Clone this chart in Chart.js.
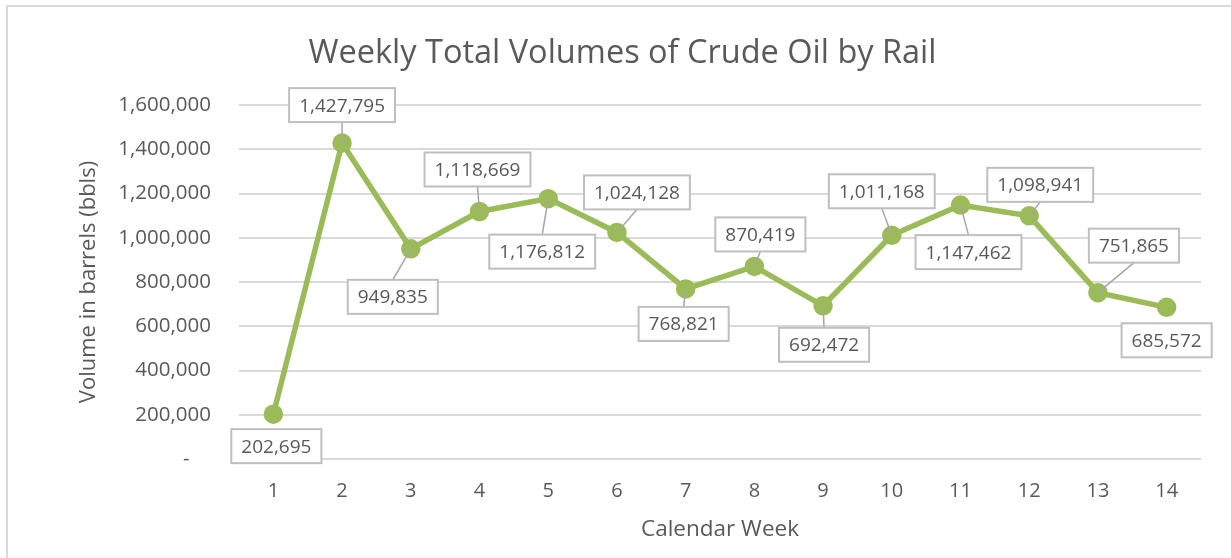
<!DOCTYPE html>
<html>
<head>
<meta charset="utf-8">
<script src="https://cdn.jsdelivr.net/npm/chart.js@4/dist/chart.umd.min.js"></script>
<style>
    body { margin: 0; background: #fff; }
    #frame { position: absolute; left: 6px; top: 5px; width: 1240px; height: 570px; border: 2px solid #d9d9d9; box-sizing: border-box; }
    #chart { position: absolute; left: 0; top: 0; }
</style>
</head>
<body>
<div id="frame"></div>
<canvas id="chart" width="1231" height="558"></canvas>
<script>
// Données du graphique
const weeks = ['1', '2', '3', '4', '5', '6', '7', '8', '9', '10', '11', '12', '13', '14'];
const volumes = [202695, 1427795, 949835, 1118669, 1176812, 1024128, 768821, 870419, 692472, 1011168, 1147462, 1098941, 751865, 685572];
const yTicks = [0, 200000, 400000, 600000, 800000, 1000000, 1200000, 1400000, 1600000];

// Décalage des étiquettes par rapport au point (px)
const labelOffsets = [
    [3, 32], [0, -38], [-18, 48], [-2, -42], [-6, 53], [20, -40], [-2, 35],
    [6, -32], [1, 39], [-10, -44], [8, 47], [11, -31], [36, -47], [0, 33]
];

const textColor = '#595959';
const fontFamily = '"Open Sans", "Liberation Sans", sans-serif';

// Centrer le titre sur tout le cadre (et pas seulement sur la zone moins le padding)
const titleCenter = {
    id: 'titleCenter',
    afterLayout(chart) {
        if (chart.titleBlock) {
            chart.titleBlock.left = 14;
            chart.titleBlock.right = chart.width;
        }
    }
};

// Étiquettes encadrées avec lignes de rappel (comme Excel)
const boxLabels = {
    id: 'boxLabels',
    afterDatasetsDraw(chart) {
        const ctx = chart.ctx;
        const meta = chart.getDatasetMeta(0);
        ctx.save();
        ctx.font = '19px ' + fontFamily;
        ctx.textAlign = 'center';
        ctx.textBaseline = 'middle';
        meta.data.forEach((pt, i) => {
            const text = volumes[i].toLocaleString('en-US');
            const w = ctx.measureText(text).width + 20;
            const h = 34;
            const cx = pt.x + labelOffsets[i][0];
            const cy = pt.y + labelOffsets[i][1];
            // ligne de rappel
            const edgeY = cy > pt.y ? cy - h / 2 : cy + h / 2;
            const dist = Math.hypot(cx - pt.x, edgeY - pt.y);
            if (dist > 16) {
                ctx.strokeStyle = '#a6a6a6';
                ctx.lineWidth = 1.5;
                ctx.beginPath();
                ctx.moveTo(cx, edgeY);
                ctx.lineTo(pt.x, pt.y);
                ctx.stroke();
            }
            ctx.fillStyle = '#ffffff';
            ctx.fillRect(cx - w / 2, cy - h / 2, w, h);
            ctx.strokeStyle = '#bfbfbf';
            ctx.lineWidth = 2;
            ctx.strokeRect(cx - w / 2, cy - h / 2, w, h);
            ctx.fillStyle = textColor;
            ctx.fillText(text, cx, cy + 1);
        });
        ctx.restore();
    }
};

const ctx = document.getElementById('chart').getContext('2d');
const chart = new Chart(ctx, {
    type: 'line',
    data: {
        labels: weeks,
        datasets: [{
            label: 'Volume',
            data: volumes,
            borderColor: '#9bbb59',
            backgroundColor: '#9bbb59',
            borderWidth: 5.5,
            pointRadius: 7,
            pointHoverRadius: 7,
            tension: 0
        }]
    },
    options: {
        responsive: false,
        animation: false,
        layout: { padding: { left: 0, right: 30, top: 0, bottom: 0 } },
        plugins: {
            legend: { display: false },
            tooltip: { enabled: false },
            title: {
                display: true,
                text: 'Weekly Total Volumes of Crude Oil by Rail',
                color: textColor,
                font: { family: fontFamily, size: 32.5, weight: 'normal' },
                padding: { top: 34, bottom: 32 }
            }
        },
        scales: {
            x: {
                offset: true,
                grid: { display: false },
                border: { display: false },
                ticks: { color: textColor, padding: 12, font: { family: fontFamily, size: 20 } },
                title: {
                    display: true,
                    text: 'Calendar Week',
                    color: textColor,
                    font: { family: fontFamily, size: 22.5 },
                    padding: { top: 0, bottom: 15 }
                },
                afterFit(scale) { scale.height = 99; }
            },
            y: {
                min: 0,
                max: 1600000,
                afterBuildTicks(scale) { scale.ticks = yTicks.map(v => ({ value: v })); },
                grid: { color: '#d9d9d9', lineWidth: 2, drawTicks: false },
                border: { display: false },
                ticks: {
                    color: textColor,
                    padding: 28,
                    font: { family: fontFamily, size: 20.5 },
                    callback: v => v === 0 ? '-    ' : v.toLocaleString('en-US')
                },
                title: {
                    display: true,
                    text: 'Volume in barrels (bbls)',
                    color: textColor,
                    font: { family: fontFamily, size: 22 },
                    padding: { top: 76, bottom: 0 }
                },
                afterFit(scale) { scale.width = 239; }
            }
        }
    },
    plugins: [titleCenter, boxLabels]
});
</script>
</body>
</html>
